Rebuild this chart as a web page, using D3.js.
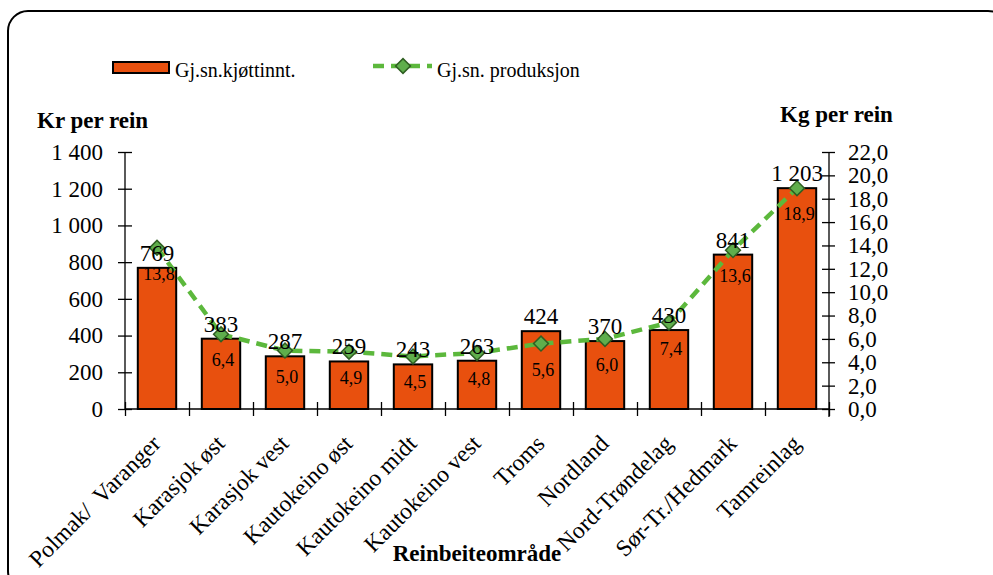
<!DOCTYPE html>
<html>
<head>
<meta charset="utf-8">
<script src="https://cdn.jsdelivr.net/npm/d3@7"></script>
<style>
  html, body { margin: 0; padding: 0; background: #fff; }
  svg { display: block; }
  svg text { font-family: "Liberation Serif", "Times New Roman", serif; }
</style>
</head>
<body>
<svg id="chart" width="993" height="575" font-family="Liberation Serif"></svg>
<script>
const categories = ["Polmak/  Varanger", "Karasjok øst", "Karasjok vest", "Kautokeino øst", "Kautokeino midt", "Kautokeino vest", "Troms", "Nordland", "Nord-Trøndelag", "Sør-Tr./Hedmark", "Tamreinlag"];
const kjottinntekt = [769, 383, 287, 259, 243, 263, 424, 370, 430, 841, 1203];
const produksjon = [13.8, 6.4, 5.0, 4.9, 4.5, 4.8, 5.6, 6.0, 7.4, 13.6, 18.9];
const leftTicks = [0, 200, 400, 600, 800, 1000, 1200, 1400];
const rightTicks = [0, 2, 4, 6, 8, 10, 12, 14, 16, 18, 20, 22];
const seriesNames = ["Gj.sn.kjøttinnt.", "Gj.sn. produksjon"];
const axisTitles = { left: "Kr per rein", right: "Kg per rein", bottom: "Reinbeiteområde" };

const barColor = "#E8500E";
const lineColor = "#5cb83c";
const markerFill = "#5fae4c";
const markerStroke = "#2f5e22";
const FONT = "Liberation Serif";

const loc = d3.formatLocale({ decimal: ",", thousands: " ", grouping: [3], currency: ["", ""] });
const fmtInt = loc.format(",");
const fmtDec = loc.format(".1f");

const svg = d3.select("#chart");
const pL = 125, pR = 829, pT = 152, pB = 409;

const x = d3.scaleBand().domain(categories).range([pL, pR]).paddingInner(0.4).paddingOuter(0.2);
const yL = d3.scaleLinear().domain([0, 1400]).range([pB, pT]);
const yR = d3.scaleLinear().domain([0, 22]).range([pB, pT]);

// outer border
svg.append("rect").attr("x", 8).attr("y", 11).attr("width", 1000).attr("height", 580)
  .attr("rx", 20).attr("fill", "none").attr("stroke", "#000").attr("stroke-width", 2);

// Bars
svg.append("g").selectAll("rect").data(categories).join("rect")
  .attr("x", d => x(d))
  .attr("y", (d, i) => yL(kjottinntekt[i]))
  .attr("width", x.bandwidth())
  .attr("height", (d, i) => yL(0) - yL(kjottinntekt[i]))
  .attr("fill", barColor).attr("stroke", "#000").attr("stroke-width", 2);

// Left axis
const gL = svg.append("g").attr("transform", `translate(${pL},0)`)
  .call(d3.axisLeft(yL).tickValues(leftTicks).tickFormat(fmtInt).tickSize(7).tickPadding(15));
gL.attr("font-family", FONT);
gL.select(".domain").attr("stroke", "#000").attr("stroke-width", 1.3).attr("d", `M0,${pT}V${pB}`);
gL.selectAll(".tick line").attr("x1", 7).attr("x2", -7).attr("stroke-width", 1.3);
gL.selectAll(".tick text").attr("font-size", 23).attr("font-family", FONT).attr("fill", "#000");

// Right axis
const gR = svg.append("g").attr("transform", `translate(${pR},0)`)
  .call(d3.axisRight(yR).tickValues(rightTicks).tickFormat(fmtDec).tickSize(6).tickPadding(13));
gR.attr("font-family", FONT);
gR.select(".domain").attr("stroke-width", 1.3).attr("d", `M0,${pT}V${pB + 8}`);
gR.selectAll(".tick line").attr("x1", 6).attr("x2", -7).attr("stroke-width", 1.3);
gR.selectAll(".tick text").attr("font-size", 23).attr("font-family", FONT).attr("fill", "#000");

// Bottom axis with category boundary ticks
const xb = d3.scaleLinear().domain([0, categories.length]).range([pL, pR]);
const gB = svg.append("g").attr("transform", `translate(0,${pB})`)
  .call(d3.axisBottom(xb).tickValues(d3.range(categories.length + 1)).tickFormat("").tickSize(7));
gB.select(".domain").attr("stroke-width", 1.3).attr("d", `M${pL},0H${pR}`);
gB.selectAll(".tick line").attr("y1", -7).attr("y2", 7).attr("stroke-width", 1.3);

// Category labels
svg.append("g").selectAll("text").data(categories).join("text")
  .attr("transform", d => `translate(${x(d) + x.bandwidth() / 2 + 5},${445}) rotate(-45)`)
  .attr("text-anchor", "end").attr("font-size", 23.5).attr("font-family", FONT).attr("fill", "#000")
  .style("white-space", "pre").text(d => d);

// Line
const line = d3.line().x((d, i) => x(categories[i]) + x.bandwidth() / 2).y(d => yR(d));
svg.append("path").datum(produksjon).attr("d", line)
  .attr("fill", "none").attr("stroke", lineColor).attr("stroke-width", 4.5)
  .attr("stroke-dasharray", "11,7");

// Markers
const diamond = d3.symbol().type(d3.symbolSquare).size(110);
svg.append("g").selectAll("path").data(produksjon).join("path")
  .attr("d", diamond())
  .attr("transform", (d, i) => `translate(${x(categories[i]) + x.bandwidth() / 2},${yR(d)}) rotate(45)`)
  .attr("fill", markerFill).attr("stroke", markerStroke).attr("stroke-width", 1.5);

// Bar value labels
svg.append("g").selectAll("text").data(kjottinntekt).join("text")
  .attr("x", (d, i) => x(categories[i]) + x.bandwidth() / 2)
  .attr("y", d => yL(d) - 7)
  .attr("text-anchor", "middle").attr("font-size", 23).attr("font-family", FONT).attr("fill", "#000")
  .text(d => fmtInt(d));

// Production labels
svg.append("g").selectAll("text").data(produksjon).join("text")
  .attr("x", (d, i) => x(categories[i]) + x.bandwidth() / 2 + 2)
  .attr("y", d => yR(d) + 32)
  .attr("text-anchor", "middle").attr("font-size", 18).attr("font-family", FONT).attr("fill", "#000")
  .text(d => fmtDec(d));

// Axis titles
svg.append("text").attr("x", 37).attr("y", 128).attr("font-size", 23).attr("font-family", FONT).attr("font-weight", "bold").text(axisTitles.left);
svg.append("text").attr("x", 780).attr("y", 122).attr("font-size", 23).attr("font-family", FONT).attr("font-weight", "bold").text(axisTitles.right);
svg.append("text").attr("x", 477).attr("y", 561).attr("text-anchor", "middle").attr("font-size", 23).attr("font-family", FONT).attr("font-weight", "bold").text(axisTitles.bottom);

// Legend
const lg = svg.append("g");
lg.append("rect").attr("x", 113).attr("y", 62).attr("width", 56).attr("height", 11)
  .attr("fill", barColor).attr("stroke", "#000").attr("stroke-width", 2);
lg.append("text").attr("x", 175).attr("y", 77).attr("font-size", 20).attr("font-family", FONT).text(seriesNames[0]);
lg.append("line").attr("x1", 373).attr("x2", 432).attr("y1", 66).attr("y2", 66)
  .attr("stroke", lineColor).attr("stroke-width", 4.5).attr("stroke-dasharray", "11,7");
lg.append("path").attr("d", diamond()).attr("transform", "translate(403,66) rotate(45)")
  .attr("fill", markerFill).attr("stroke", markerStroke).attr("stroke-width", 1.5);
lg.append("text").attr("x", 437).attr("y", 77).attr("font-size", 20).attr("font-family", FONT).text(seriesNames[1]);
</script>
</body>
</html>
